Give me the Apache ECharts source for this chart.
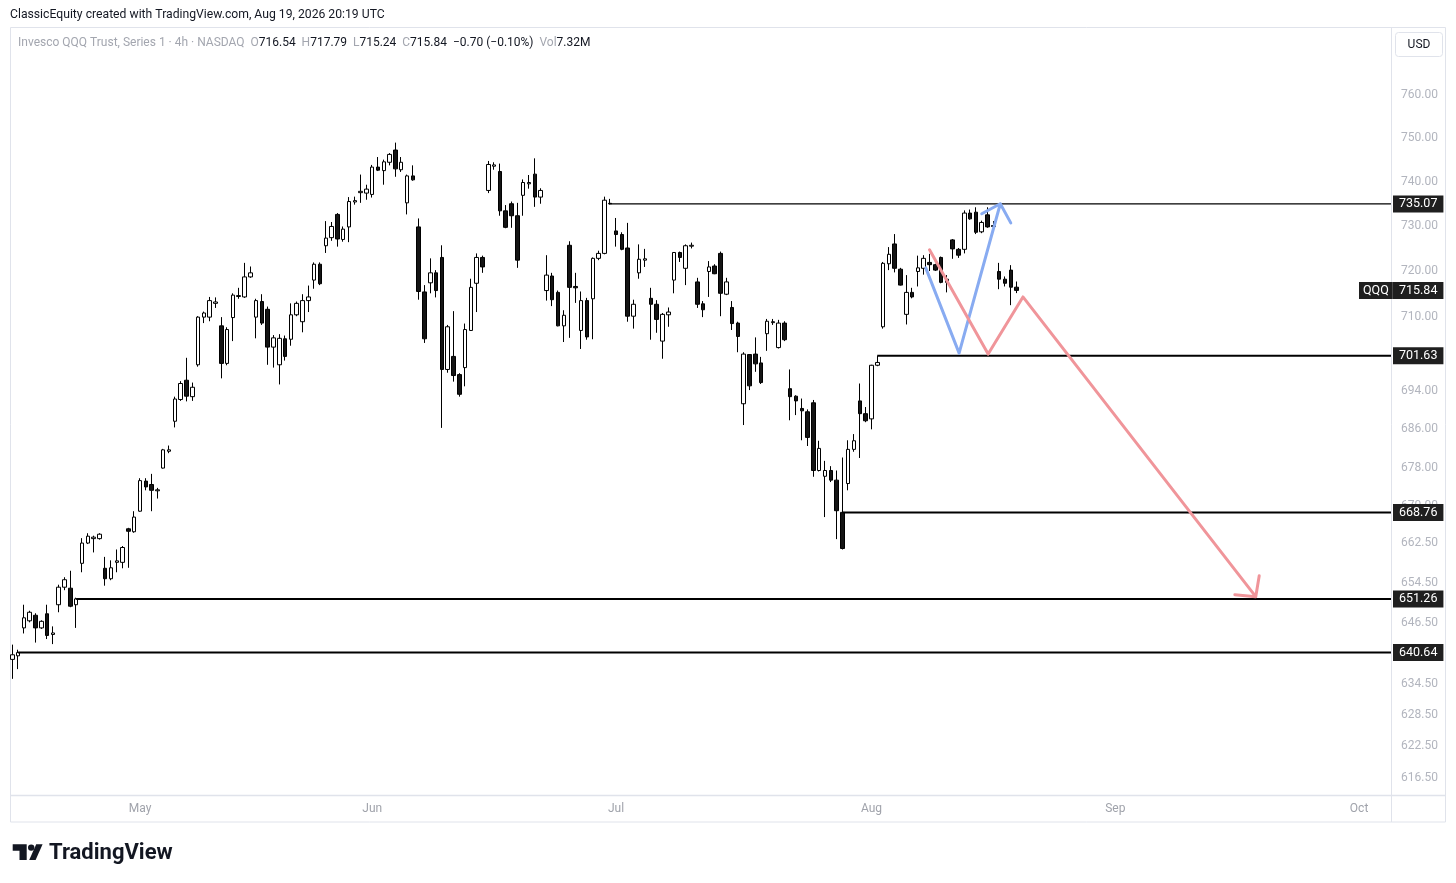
<!DOCTYPE html>
<html>
<head>
<meta charset="utf-8">
<script src="https://cdn.jsdelivr.net/npm/echarts@6/dist/echarts.min.js"></script>
<style>html,body{margin:0;padding:0;background:#fff}#c{width:1456px;height:883px}</style>
</head>
<body>
<div id="c"></div>
<script>
// ---------- data ----------
const startDate = '2026-04-16';
const holidays = ['2026-05-25', '2026-06-19', '2026-07-03', '2026-09-07'];
const barTimes = ['09:30', '13:30'];
const totalBars = 238;
const monthNames = ['Jan','Feb','Mar','Apr','May','Jun','Jul','Aug','Sep','Oct','Nov','Dec'];

const open = [
 639.3,640.0,645.5,646.9,648.0,645.5,648.3,644.2,650.1,653.6,
 653.4,650.1,658.4,662.5,663.4,663.4,657.4,655.3,658.6,658.6,
 665.4,664.8,669.0,675.2,674.5,673.2,677.9,681.4,687.7,692.3,
 696.4,692.9,699.7,710.0,710.0,713.0,708.1,700.0,709.9,714.5,
 714.4,718.8,710.0,713.4,711.7,703.5,699.7,705.3,705.2,710.5,
 709.0,713.6,718.1,721.6,725.7,727.5,732.7,727.1,729.9,735.5,
 737.6,737.5,737.2,743.4,742.6,744.5,747.3,742.8,735.3,741.4,
 729.9,715.5,717.5,719.7,723.1,698.7,701.5,697.6,699.1,707.1,
 717.4,723.1,738.1,743.6,742.4,733.5,735.1,732.4,737.0,739.6,
 741.8,736.6,715.8,719.0,715.4,708.1,725.8,716.7,707.1,713.6,
 714.0,722.9,724.0,735.2,729.0,728.2,725.2,710.2,719.7,722.5,
 714.1,712.8,704.8,710.5,718.1,724.2,720.7,725.6,717.7,712.9,
 720.0,721.2,724.0,715.0,712.1,708.7,691.4,701.9,702.0,700.1,
 706.4,708.8,703.4,708.7,694.6,693.0,690.4,689.7,691.6,677.4,
 676.2,677.4,675.4,668.76,674.7,681.8,692.0,689.3,688.2,699.6,
 707.9,721.7,726.1,720.5,710.6,715.4,720.0,720.7,722.0,721.5,
 723.1,717.6,727.0,724.9,724.9,733.0,733.2,728.8,732.6,730.2,
 720.0,718.3,720.3,716.54
];
const high = [
 642.2,641.2,650.1,648.9,648.4,647.0,650.1,645.8,654.1,655.6,
 656.9,651.5,663.5,664.5,664.0,664.5,659.7,659.0,661.2,661.9,
 665.6,669.0,675.8,675.8,676.7,673.8,681.9,682.6,692.9,696.2,
 701.2,695.9,710.2,711.2,714.4,714.3,710.0,707.8,715.2,716.4,
 721.9,721.1,714.0,715.0,712.3,706.1,706.3,706.0,713.0,713.4,
 715.0,716.9,722.0,722.0,731.2,731.0,733.0,730.0,736.6,736.7,
 741.7,739.4,743.9,745.7,745.1,746.6,749.0,745.7,741.7,743.8,
 731.8,717.0,722.9,720.3,725.8,708.3,711.3,697.9,708.6,718.4,
 724.0,723.5,744.8,744.5,744.2,734.8,735.6,735.3,740.6,741.6,
 745.4,738.6,723.6,719.7,715.8,711.5,726.7,719.7,715.6,714.2,
 723.1,724.6,736.7,736.2,731.9,728.7,730.8,713.8,726.0,725.0,
 716.4,713.7,710.9,712.1,724.3,724.4,726.0,726.4,718.6,713.5,
 722.3,721.6,724.4,718.6,713.5,709.0,702.4,702.0,705.6,701.4,
 709.6,709.6,709.4,709.1,698.7,693.2,692.5,690.2,692.2,683.6,
 679.4,678.3,677.4,680.1,683.7,685.0,695.7,690.7,699.7,701.63,
 722.1,725.4,728.3,720.8,719.2,716.4,723.5,723.6,723.9,721.7,
 723.3,719.2,727.2,725.2,733.6,733.8,734.3,731.3,734.3,731.2,
 721.9,718.9,721.4,717.79
];
const low = [
 635.5,637.4,644.4,646.6,642.6,645.3,643.3,642.3,648.6,653.0,
 649.6,645.5,656.6,662.3,660.6,663.2,653.9,655.0,656.6,657.4,
 657.5,664.6,668.9,673.3,669.0,671.6,677.8,681.0,686.4,692.0,
 691.9,692.0,699.3,708.7,709.1,712.0,696.8,699.6,704.8,714.0,
 714.2,718.6,705.4,708.3,699.7,699.1,695.5,700.6,703.8,710.2,
 706.7,711.1,716.2,717.0,724.1,726.8,725.5,726.6,726.5,734.9,
 735.3,736.0,736.5,742.5,739.4,743.8,741.2,742.3,732.7,740.3,
 713.8,704.4,715.2,714.3,686.3,698.0,696.1,692.9,695.1,707.0,
 711.1,719.7,737.5,742.8,732.4,729.6,729.7,720.8,732.4,738.5,
 734.4,735.1,713.6,712.4,708.0,704.6,705.5,713.1,703.1,705.1,
 705.2,722.5,723.8,734.9,725.5,724.7,709.0,707.5,718.4,721.0,
 705.1,706.6,701.0,707.9,715.2,722.1,717.0,725.1,712.0,710.0,
 714.4,719.4,710.2,714.8,707.2,702.4,686.9,694.3,698.2,695.6,
 702.7,708.3,703.2,704.8,687.9,689.0,683.7,682.5,676.1,677.2,
 667.8,675.0,663.3,661.2,673.3,681.3,680.0,687.5,686.0,699.4,
 707.5,720.3,719.8,716.9,708.4,714.1,716.7,719.3,720.1,720.1,
 717.4,715.4,722.8,723.0,724.0,731.5,728.3,728.5,729.7,729.6,
 716.1,716.7,712.6,715.24
];
const close = [
 640.2,640.64,647.5,648.6,645.5,646.8,644.0,644.5,653.6,655.1,
 649.8,651.26,662.5,663.9,663.7,664.3,655.3,657.5,658.9,661.6,
 664.9,667.8,675.3,674.0,673.3,673.4,681.7,681.7,692.4,695.7,
 693.0,694.9,710.0,710.9,713.6,713.3,700.0,707.3,714.8,714.7,
 718.8,719.7,713.6,708.7,703.5,705.5,705.4,701.5,710.5,713.0,
 713.6,714.4,721.6,717.3,727.4,730.0,727.2,729.4,735.6,735.8,
 737.9,738.4,743.4,742.7,744.6,746.3,743.0,744.5,741.4,740.5,
 715.6,705.3,719.7,715.8,698.7,707.9,697.4,693.4,707.3,716.5,
 723.1,721.0,744.0,743.9,733.5,729.8,732.4,722.5,739.9,739.9,
 736.6,738.1,719.2,713.8,708.1,710.4,716.5,716.4,713.6,705.7,
 722.9,724.0,735.9,735.07,728.2,724.9,710.2,712.8,722.7,722.8,
 712.8,709.5,710.6,711.1,724.2,723.1,725.7,725.8,712.8,711.6,
 721.0,719.5,715.2,717.7,708.6,705.8,702.0,695.2,699.9,695.9,
 709.1,709.0,708.7,705.1,692.9,692.0,689.9,684.3,677.4,682.0,
 677.4,675.4,669.1,661.4,681.8,683.6,689.3,687.8,699.6,700.2,
 721.8,723.8,720.7,717.0,715.4,714.4,720.8,722.9,721.5,720.3,
 717.6,718.3,725.0,723.6,733.0,731.7,728.7,730.9,729.9,730.0,
 718.3,717.4,716.54,715.84
];
const volumeText = '7.32M';

// horizontal levels (price, starting bar index, line width)
const levels = [735.07, 701.63, 668.76, 651.26, 640.64];
const levelStart = [103, 149, 143, 11, 1];
const levelWidth = [1.3, 2, 2, 2, 2];

// drawn arrows (bar index, price)
const blueX = [157.35, 163.1, 170.2, 172.0, 170.2, 167.0];
const blueY = [720.8, 702.2, 735.1, 730.8, 735.1, 732.85];
const redX = [158.0, 168.1, 174.1, 214.2, 214.8, 214.2, 210.6];
const redY = [724.8, 702.0, 714.4, 651.7, 655.9, 651.7, 652.1];

// price-scale tick labels
const yTicks = [760, 750, 740, 730, 720, 710, 694, 686, 678, 670, 662.5, 654.5, 646.5, 634.5, 628.5, 622.5, 616.5];
const yMin = 612.9, yMax = 775.3;

// ---------- categories ----------
const cats = [];
const monthStart = new Set();
(function () {
  let t = Date.parse(startDate + 'T00:00:00Z');
  let prevM = -1;
  while (cats.length < totalBars) {
    const d = new Date(t);
    const wd = d.getUTCDay();
    const iso = d.toISOString().slice(0, 10);
    if (wd !== 0 && wd !== 6 && holidays.indexOf(iso) < 0) {
      const m = d.getUTCMonth();
      if (m !== prevM) { if (prevM !== -1) monthStart.add(cats.length); prevM = m; }
      barTimes.forEach(bt => cats.push(iso + ' ' + bt));
    }
    t += 86400000;
  }
})();

const FONT = 'Roboto, "Liberation Sans", sans-serif';
const last = close.length - 1;
const chg = close[last] - close[last - 1];
const pct = chg / close[last - 1] * 100;
const fmtSigned = v => (v < 0 ? '\u2212' : '+') + Math.abs(v).toFixed(2);

const tagStyle = {
  show: true,
  distance: 2,
  backgroundColor: '#1f1f1f',
  color: '#ffffff',
  fontFamily: FONT,
  fontSize: 12.5,
  lineHeight: 14,
  padding: [2, 6, 1, 6]
};

const candles = open.map((o, i) => [o, close[i], low[i], high[i]]);

const series = [{
  type: 'candlestick',
  xAxisIndex: 0,
  data: candles,
  barWidth: 4,
  z: 3,
  itemStyle: { color: '#ffffff', color0: '#141414', borderColor: '#000000', borderColor0: '#000000', borderWidth: 1 }
}];

levels.forEach((p, k) => {
  series.push({
    type: 'line', xAxisIndex: 1, silent: true, z: 4,
    data: [[levelStart[k], p], [totalBars - 0.5, p]],
    symbol: 'none',
    lineStyle: { color: '#000000', width: levelWidth[k] },
    endLabel: Object.assign({}, tagStyle, { formatter: () => p.toFixed(2) })
  });
});

// current price tag + symbol tag
series.push({
  type: 'line', xAxisIndex: 1, silent: true, z: 4,
  data: [[last, close[last]], [totalBars - 0.5, close[last]]],
  symbol: 'none', lineStyle: { opacity: 0 },
  endLabel: Object.assign({}, tagStyle, { formatter: () => close[last].toFixed(2) })
});
series.push({
  type: 'line', xAxisIndex: 1, silent: true, z: 4,
  data: [[last, close[last]], [totalBars - 0.5, close[last]]],
  symbol: 'none', lineStyle: { opacity: 0 },
  endLabel: Object.assign({}, tagStyle, { formatter: () => 'QQQ', padding: [2, 4, 1, 4], offset: [-34, 0] })
});

series.push({
  type: 'line', xAxisIndex: 1, silent: true, z: 5,
  data: blueX.map((x, i) => [x, blueY[i]]),
  symbol: 'none',
  lineStyle: { color: '#88abf1', width: 3, cap: 'round', join: 'round' }
});
series.push({
  type: 'line', xAxisIndex: 1, silent: true, z: 5,
  data: redX.map((x, i) => [x, redY[i]]),
  symbol: 'none',
  lineStyle: { color: '#f0959a', width: 3, cap: 'round', join: 'round' }
});

const legendText =
  '{g|Invesco QQQ Trust, Series 1 · 4h · NASDAQ  }' +
  '{g|O}{d|' + open[last].toFixed(2) + '  }' +
  '{g|H}{d|' + high[last].toFixed(2) + '  }' +
  '{g|L}{d|' + low[last].toFixed(2) + '  }' +
  '{g|C}{d|' + close[last].toFixed(2) + '  ' + fmtSigned(chg) + ' (' + fmtSigned(pct) + '%)  }' +
  '{g|Vol}{d|' + volumeText + '}';

const chart = echarts.init(document.getElementById('c'), null, { renderer: 'canvas' });
chart.setOption({
  animation: false,
  backgroundColor: '#ffffff',
  textStyle: { fontFamily: FONT },
  grid: { left: 9.4, right: 65, top: 30, bottom: 86 },
  xAxis: [{
    type: 'category', data: cats, boundaryGap: true,
    axisLine: { show: false }, axisTick: { show: false }, splitLine: { show: false },
    axisLabel: {
      interval: (i) => monthStart.has(i),
      formatter: (v) => monthNames[parseInt(v.slice(5, 7), 10) - 1],
      color: '#a0a3ab', fontSize: 12, margin: 6, fontFamily: FONT
    }
  }, {
    type: 'value', min: -0.5, max: totalBars - 0.5, show: false
  }],
  yAxis: {
    type: 'log', logBase: 10, min: yMin, max: yMax, position: 'right',
    axisLine: { show: false }, axisTick: { show: false }, splitLine: { show: false },
    axisLabel: {
      customValues: yTicks,
      formatter: (v) => Number(v).toFixed(2),
      color: '#b2b5be', fontSize: 12, margin: 10, fontFamily: FONT
    }
  },
  series: series,
  graphic: [
    { type: 'text', x: 10, y: 15, style: { text: 'ClassicEquity created with TradingView.com, Aug 19, 2026 20:19 UTC', fill: '#131722', fontSize: 12.2, fontFamily: FONT, verticalAlign: 'middle' } },
    { type: 'rect', shape: { x: 10.5, y: 27.5, width: 1435, height: 794.5 }, style: { fill: 'none', stroke: '#e0e3eb', lineWidth: 1 }, silent: true },
    { type: 'line', shape: { x1: 1391.5, y1: 27.5, x2: 1391.5, y2: 822 }, style: { stroke: '#e0e3eb', lineWidth: 1 }, silent: true },
    { type: 'line', shape: { x1: 10.5, y1: 795.5, x2: 1446, y2: 795.5 }, style: { stroke: '#e0e3eb', lineWidth: 1.5 }, silent: true },
    { type: 'rect', shape: { x: 1395.5, y: 32.5, width: 47, height: 24, r: 3 }, style: { fill: '#ffffff', stroke: '#e0e3eb', lineWidth: 1 }, silent: true },
    { type: 'text', x: 1419, y: 44.5, style: { text: 'USD', fill: '#131722', fontSize: 12, fontFamily: FONT, align: 'center', verticalAlign: 'middle' } },
    { type: 'text', x: 18, y: 43, style: { text: legendText, fontSize: 12, fontFamily: FONT, verticalAlign: 'middle',
        rich: { g: { fill: '#a3a6af', fontSize: 12, fontFamily: FONT }, d: { fill: '#131722', fontSize: 12, fontFamily: FONT } } } },
    // TradingView logo
    { type: 'polygon', shape: { points: [[12.7, 844.3], [26.7, 844.3], [26.7, 860], [19.5, 860], [19.5, 850.8], [12.7, 850.8]] }, style: { fill: '#131722' }, silent: true },
    { type: 'circle', shape: { cx: 31.2, cy: 847.6, r: 3.2 }, style: { fill: '#131722' }, silent: true },
    { type: 'polygon', shape: { points: [[36.2, 844.3], [42.6, 844.3], [35.6, 860], [29.2, 860]] }, style: { fill: '#131722' }, silent: true },
    { type: 'text', x: 49, y: 853, style: { text: 'TradingView', fill: '#131722', fontSize: 22, fontWeight: 'bold', fontFamily: FONT, verticalAlign: 'middle' } }
  ]
});
</script>
</body>
</html>
